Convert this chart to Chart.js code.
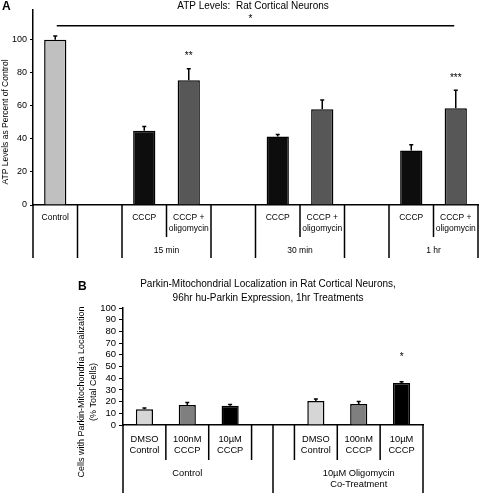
<!DOCTYPE html>
<html>
<head>
<meta charset="utf-8">
<script src="https://cdn.jsdelivr.net/npm/chart.js@4"></script>
<style>
  html, body { margin: 0; padding: 0; background: #fff; }
  #wrap { position: relative; width: 480px; height: 496px; }
  #wrapA { position: absolute; left: 0; top: 0; width: 480px; height: 262px; }
  #wrapB { position: absolute; left: 0; top: 262px; width: 480px; height: 234px; }
</style>
</head>
<body>
<div id="wrap">
  <div id="wrapA"><canvas id="atpChart"></canvas></div>
  <div id="wrapB"><canvas id="parkinChart"></canvas></div>
</div>
<script>
const FONT = '"Liberation Sans", Arial, Helvetica, sans-serif';

// ---- Panel A data ----
const atpLabels = ['Control', '', 'CCCP', ['CCCP +', 'oligomycin'], '', 'CCCP', ['CCCP +', 'oligomycin'], '', 'CCCP', ['CCCP +', 'oligomycin']];
const atpValues = [100, null, 45, 75.5, null, 41.5, 58, null, 33, 58.5];
const atpErrors = [2.2, null, 2.5, 7, null, 1.2, 5.5, null, 3.5, 11];
const atpColors = ['#c0c0c0', null, '#0d0d0d', '#575757', null, '#0d0d0d', '#575757', null, '#0d0d0d', '#575757'];
const atpStars = ['', '', '', '**', '', '', '', '', '', '***'];
const atpTicks = [0, 20, 40, 60, 80, 100];
const atpGroups = [['15 min'], ['30 min'], ['1 hr']];
const atpGroupSpans = [[2, 4], [5, 7], [8, 10]];
const atpLongLines = [0, 1, 2, 4, 5, 7, 8, 10];
const atpShortLines = [3, 6, 9];
const atpBracket = { from: 0, to: 9, value: 108.5, star: '*' };

// ---- Panel B data ----
const parkinLabels = [['DMSO', 'Control'], ['100nM', 'CCCP'], ['10µM', 'CCCP'], '', ['DMSO', 'Control'], ['100nM', 'CCCP'], ['10µM', 'CCCP']];
const parkinValues = [13.5, 17, 16.5, null, 20.5, 18, 36];
const parkinErrors = [1, 2.2, 1, null, 1.8, 2, 1];
const parkinColors = ['#d6d6d6', '#7f7f7f', '#000000', null, '#d6d6d6', '#7f7f7f', '#000000'];
const parkinStars = ['', '', '', '', '', '', '*'];
const parkinTicks = [0, 10, 20, 30, 40, 50, 60, 70, 80, 90, 100];
const parkinGroups = [['Control'], ['10µM Oligomycin', 'Co-Treatment']];
const parkinGroupSpans = [[0, 3], [4, 7]];
const parkinLongLines = [0, 3.5, 7];
const parkinShortLines = [1, 2, 3, 4, 5, 6];

// draws error bars, stars, the table-like x axis, titles and letters
const figureExtras = {
    id: 'figureExtras',
    afterDatasetsDraw(chart, args, opts) {
        const ctx = chart.ctx;
        const y = chart.scales.y;
        const meta = chart.getDatasetMeta(0);
        ctx.save();
        ctx.strokeStyle = '#000';
        ctx.fillStyle = '#000';
        meta.data.forEach((bar, i) => {
            const v = opts.values[i], e = opts.errors[i];
            if (v == null) return;
            const top = y.getPixelForValue(v + (e || 0));
            if (e) {
                ctx.lineWidth = 1.5;
                ctx.beginPath();
                ctx.moveTo(bar.x, bar.y);
                ctx.lineTo(bar.x, top);
                ctx.moveTo(bar.x - 2, top);
                ctx.lineTo(bar.x + 2, top);
                ctx.stroke();
            }
            if (opts.stars[i]) {
                ctx.font = '10px ' + FONT;
                ctx.textAlign = 'center';
                ctx.textBaseline = 'middle';
                ctx.fillText(opts.stars[i], bar.x, top - opts.starGap);
            }
        });
        if (opts.bracket) {
            const b = opts.bracket;
            const x0 = chart.scales.x.getPixelForValue(b.from) + 1.5;
            const x1 = chart.scales.x.getPixelForValue(b.to) - 1.5;
            const yy = y.getPixelForValue(b.value);
            ctx.lineWidth = 1.5;
            ctx.beginPath();
            ctx.moveTo(x0, yy);
            ctx.lineTo(x1, yy);
            ctx.stroke();
            ctx.font = '10px ' + FONT;
            ctx.textAlign = 'center';
            ctx.textBaseline = 'middle';
            ctx.fillText(b.star, (x0 + x1) / 2 - 5, yy - 6);
        }
        ctx.restore();
    },
    afterDraw(chart, args, opts) {
        const ctx = chart.ctx;
        const x = chart.scales.x;
        const edge = k => x.getPixelForValue(k - 0.5);
        ctx.save();
        ctx.strokeStyle = '#000';
        ctx.fillStyle = '#000';
        ctx.lineWidth = 1.5;
        ctx.beginPath();
        opts.longLines.forEach(k => {
            ctx.moveTo(edge(k), x.top);
            ctx.lineTo(edge(k), x.top + opts.longLen);
        });
        opts.shortLines.forEach(k => {
            ctx.moveTo(edge(k), x.top);
            ctx.lineTo(edge(k), x.top + opts.shortLen);
        });
        ctx.stroke();

        // group labels
        ctx.font = opts.labelFont + 'px ' + FONT;
        ctx.textAlign = 'center';
        ctx.textBaseline = 'middle';
        opts.groups.forEach((lines, g) => {
            const cx = (edge(opts.groupSpans[g][0]) + edge(opts.groupSpans[g][1])) / 2;
            lines.forEach((t, j) => ctx.fillText(t, cx, x.top + opts.groupY + j * opts.labelFont * 1.2));
        });

        // titles
        ctx.font = '10px ' + FONT;
        opts.title.forEach((t, j) => ctx.fillText(t, opts.titleX, opts.titleY + j * 14));

        // panel letter
        ctx.font = 'bold 12px ' + FONT;
        ctx.textAlign = 'left';
        ctx.fillText(opts.letter, opts.letterX, opts.letterY);

        // y axis title (rotated)
        ctx.font = opts.yTitleFont + 'px ' + FONT;
        ctx.textAlign = 'center';
        opts.yTitle.forEach((t, j) => {
            ctx.save();
            ctx.translate(opts.yTitleX + j * 12, opts.yTitleY);
            ctx.rotate(-Math.PI / 2);
            ctx.fillText(t, 0, 0);
            ctx.restore();
        });
        ctx.restore();
    }
};

function makeChart(id, cfg) {
    return new Chart(document.getElementById(id), {
        type: 'bar',
        data: {
            labels: cfg.labels,
            datasets: [{
                data: cfg.values,
                backgroundColor: cfg.colors,
                borderColor: '#000',
                borderWidth: 1.5,
                categoryPercentage: 1,
                barPercentage: cfg.barPct
            }]
        },
        options: {
            responsive: true,
            maintainAspectRatio: false,
            animation: false,
            devicePixelRatio: 1,
            layout: { padding: cfg.padding },
            plugins: {
                legend: { display: false },
                tooltip: { enabled: false },
                title: { display: false },
                figureExtras: cfg.extras
            },
            scales: {
                x: {
                    offset: true,
                    grid: { display: false, drawTicks: false },
                    border: { display: true, color: '#000', width: 1.5 },
                    ticks: {
                        color: '#000',
                        font: { family: FONT, size: cfg.xFont, lineHeight: 1.2 },
                        padding: cfg.xPad,
                        autoSkip: false,
                        maxRotation: 0,
                        minRotation: 0
                    },
                    afterFit: s => { s.height = cfg.xHeight; s.paddingLeft = 0; s.paddingRight = 0; }
                },
                y: {
                    min: 0,
                    max: cfg.yMax,
                    grid: { display: true, drawOnChartArea: false, drawTicks: true, tickLength: cfg.tickLen, color: '#000', lineWidth: 1 },
                    border: { display: true, color: '#000', width: 1.5 },
                    ticks: {
                        color: '#000',
                        font: { family: FONT, size: cfg.yFont },
                        padding: 3,
                        autoSkip: false
                    },
                    afterBuildTicks: s => { s.ticks = cfg.ticks.map(v => ({ value: v })); },
                    afterFit: s => { s.width = cfg.yWidth; }
                }
            }
        },
        plugins: [figureExtras]
    });
}

makeChart('atpChart', {
    labels: atpLabels, values: atpValues, colors: atpColors, barPct: 0.5,
    padding: { top: 10, right: 2, left: 0, bottom: 0 },
    xFont: 8.5, xPad: 8, xHeight: 57, yMax: 118, ticks: atpTicks, tickLen: 3, yFont: 9, yWidth: 33,
    extras: {
        values: atpValues, errors: atpErrors, stars: atpStars, starGap: 12, bracket: atpBracket,
        longLines: atpLongLines, shortLines: atpShortLines, longLen: 53, shortLen: 32,
        groups: atpGroups, groupSpans: atpGroupSpans, groupY: 46, labelFont: 8.5,
        title: ['ATP Levels:  Rat Cortical Neurons'], titleX: 253, titleY: 6,
        letter: 'A', letterX: 2, letterY: 7,
        yTitle: ['ATP Levels as Percent of Control'], yTitleX: 6, yTitleY: 122, yTitleFont: 8.5
    }
});

makeChart('parkinChart', {
    labels: parkinLabels, values: parkinValues, colors: parkinColors, barPct: 0.4,
    padding: { top: 46, right: 57, left: 0, bottom: 0 },
    xFont: 9.3, xPad: 9, xHeight: 71, yMax: 100, ticks: parkinTicks, tickLen: 4, yFont: 9.5, yWidth: 123,
    extras: {
        values: parkinValues, errors: parkinErrors, stars: parkinStars, starGap: 24, bracket: null,
        longLines: parkinLongLines, shortLines: parkinShortLines, longLen: 68, shortLen: 35,
        groups: parkinGroups, groupSpans: parkinGroupSpans, groupY: 48, labelFont: 9.3,
        title: ['Parkin-Mitochondrial Localization in Rat Cortical Neurons,', '96hr hu-Parkin Expression, 1hr Treatments'], titleX: 268, titleY: 22,
        letter: 'B', letterX: 78, letterY: 25,
        yTitle: ['Cells with Parkin-Mitochondria Localization', '(% Total Cells)'], yTitleX: 82, yTitleY: 130, yTitleFont: 9
    }
});
</script>
</body>
</html>
